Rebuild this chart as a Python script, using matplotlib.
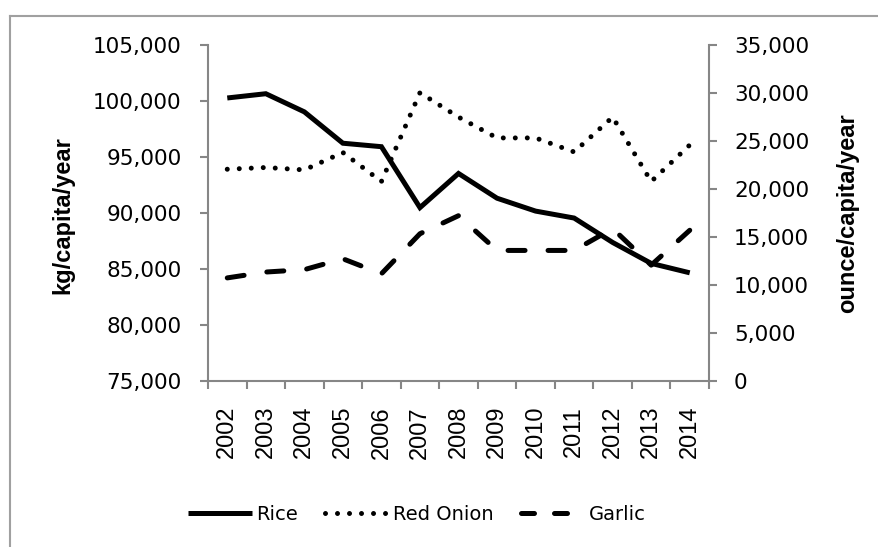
import matplotlib
matplotlib.use("Agg")
import matplotlib.pyplot as plt
from matplotlib.ticker import FuncFormatter, FixedLocator
from matplotlib.lines import Line2D
import numpy as np

years = ["2002", "2003", "2004", "2005", "2006", "2007", "2008",
         "2009", "2010", "2011", "2012", "2013", "2014"]
rice = [100270, 100650, 99030, 96230, 95920, 90480, 93530,
        91320, 90170, 89550, 87370, 85500, 84660]
red_onion = [22060, 22240, 21990, 23800, 20780, 30030, 27490,
             25320, 25320, 23860, 27490, 20780, 24580]
garlic = [10740, 11350, 11600, 12730, 11170, 15340, 17220,
          13600, 13600, 13600, 15880, 12070, 15700]

W, H = 879, 547
fig = plt.figure(figsize=(W / 100, H / 100), dpi=100)
ax = fig.add_axes([208 / W, 1 - 381 / H, (709 - 208) / W, (381 - 45) / H])
ax2 = ax.twinx()

grey = "#868686"
tick_font = "DejaVu Sans"
x = np.arange(len(years))

lw = 3.6
ax.plot(x, rice, color="black", lw=lw, solid_capstyle="butt", solid_joinstyle="miter", zorder=3)
ax2.plot(x, red_onion, color="black", lw=lw, dashes=(0.001, 2.4),
         dash_capstyle="round", zorder=3)
ax2.plot(x, garlic, color="black", lw=lw, dashes=(3.4, 4.6),
         dash_capstyle="round", zorder=3)

ax.set_xlim(-0.5, len(years) - 0.5)
ax.set_ylim(75000, 105000)
ax2.set_ylim(0, 35000)
ax.set_yticks(np.arange(75000, 105001, 5000))
ax2.set_yticks(np.arange(0, 35001, 5000))
fmt = FuncFormatter(lambda v, p: f"{int(v):,}")
ax.yaxis.set_major_formatter(fmt)
ax2.yaxis.set_major_formatter(fmt)

ax.set_xticks(x)
ax.set_xticklabels(years, rotation=90, fontfamily="Liberation Sans", fontsize=17)
ax.xaxis.set_minor_locator(FixedLocator(np.arange(-0.5, len(years), 1.0)))
ax.tick_params(axis="x", which="major", length=0, pad=18)
ax.tick_params(axis="x", which="minor", length=6, width=1.5, color=grey)

ax.tick_params(axis="y", length=6, width=1.5, color=grey, pad=13, labelsize=15.5)
ax2.tick_params(axis="y", length=6, width=1.5, color=grey, pad=12, labelsize=15.5)
for lab in ax.get_yticklabels() + ax2.get_yticklabels():
    lab.set_fontfamily(tick_font)

for a in (ax, ax2):
    a.spines["top"].set_visible(False)
    for s in ("left", "right", "bottom"):
        a.spines[s].set_color(grey)
        a.spines[s].set_linewidth(1.5)
ax.spines["right"].set_visible(False)
ax2.spines["left"].set_visible(False)
ax2.spines["bottom"].set_visible(False)

fig.text(63 / W, 1 - 215 / H, "kg/capita/year", rotation=90, ha="center", va="center",
         fontsize=17, fontweight="bold", fontfamily="Liberation Sans")
fig.text(848 / W, 1 - 213 / H, "ounce/capita/year", rotation=90, ha="center", va="center",
         fontsize=17, fontweight="bold", fontfamily="Liberation Sans")

# outer border (left and top only; the rest is cropped)
fig.add_artist(Line2D([10 / W, 10 / W], [0, 1 - 15.5 / H], transform=fig.transFigure,
                      color="#a0a0a0", lw=1.5))
fig.add_artist(Line2D([10 / W, 1], [1 - 15.5 / H, 1 - 15.5 / H], transform=fig.transFigure,
                      color="#a0a0a0", lw=1.5))

handles = [
    Line2D([], [], color="black", lw=lw, solid_capstyle="butt"),
    Line2D([], [], color="black", lw=lw, dashes=(0.001, 2.4), dash_capstyle="round"),
    Line2D([], [], color="black", lw=lw, dashes=(2.6, 4.0), dash_capstyle="round"),
]
leg = fig.legend(handles, ["Rice", "Red Onion", "Garlic"], loc="center",
                 bbox_to_anchor=(417 / W, 1 - 514 / H), ncol=3, frameon=False,
                 prop={"family": tick_font, "size": 14}, handlelength=3.3,
                 handletextpad=0.2, columnspacing=1.4)

fig.savefig("out.png", dpi=100)
